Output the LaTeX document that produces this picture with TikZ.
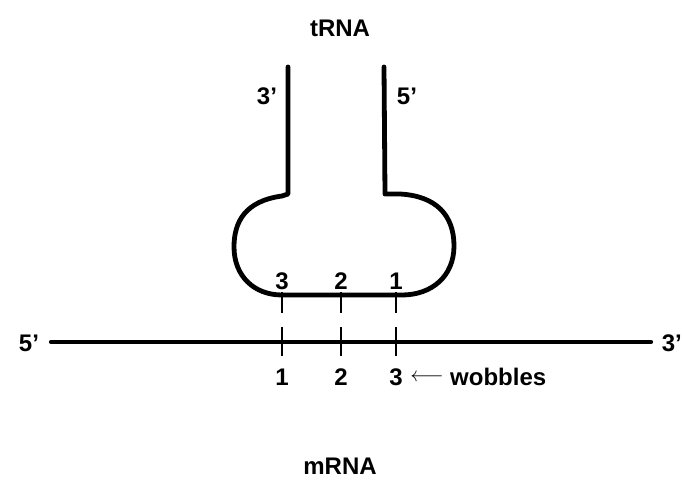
\documentclass[tikz,border=0pt]{standalone}
\usepackage{fontspec}
\setmainfont{Liberation Sans}
\begin{document}
\begin{tikzpicture}[x=1pt,y=-1pt,
  lbl/.style={font=\fontsize{24}{28}\selectfont\bfseries, inner sep=0pt},
  strand/.style={line width=4.8pt, line join=round, line cap=round},
  pairline/.style={line width=2.6pt, dash pattern=on 21pt off 14pt on 60pt}]
\useasboundingbox (0,0) rectangle (682,481);
% titles
\node[lbl] (trna) at (340,28) {tRNA};
\node[lbl] (mrna) at (340,466) {mRNA};
% tRNA stem and anticodon loop
\coordinate (s3top) at (288,67);
\coordinate (s5top) at (384,67);
\draw[strand] (s3top) -- (288,194) -- (282,196)
  .. controls (245,201) and (234,222) .. (234,247)
  .. controls (234,276) and (254,295) .. (282,295)
  -- (402,295)
  .. controls (432,295) and (454,276) .. (454,246)
  .. controls (454,215) and (436,196) .. (400,194)
  -- (385,194) -- (s5top);
\node[lbl] (p3) at (267,96) {3’};
\node[lbl] (p5) at (407,96) {5’};
% anticodon numbers
\node[lbl] (a3) at (282,281) {3};
\node[lbl] (a2) at (341,281) {2};
\node[lbl] (a1) at (396,281) {1};
% mRNA
\coordinate (mL) at (51,342);
\coordinate (mR) at (651,342);
\draw[line width=4.2pt, line cap=round] (mL) -- (mR);
\node[lbl] (m5) at (29,343) {5’};
\node[lbl, anchor=east] (m3) at (682,343) {3’};
% pairing lines
\coordinate (t1) at (282,292); \coordinate (b1) at (282,356);
\coordinate (t2) at (341,292); \coordinate (b2) at (341,356);
\coordinate (t3) at (396,292); \coordinate (b3) at (396,356);
\draw[pairline] (t1) -- (b1);
\draw[pairline] (t2) -- (b2);
\draw[pairline] (t3) -- (b3);
% codon numbers
\node[lbl] (c1) at (282,377) {1};
\node[lbl] (c2) at (341,377) {2};
\node[lbl] (c3) at (396,377) {3};
\node[font=\fontsize{20}{24}\selectfont, inner sep=0pt] (arr) at (427,378) {$\longleftarrow$};
\node[lbl, anchor=west] (wob) at (450,377) {wobbles};
\end{tikzpicture}
\end{document}
